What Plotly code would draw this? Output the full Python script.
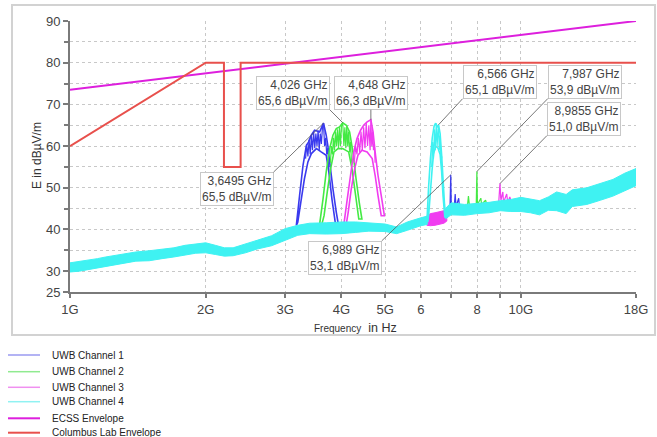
import math
import plotly.graph_objects as go

# ---------------- data (GHz, dBuV/m) ----------------
# noise floor band (all four channels overlaid), lower / upper edge
band_freq_a = [1.00, 1.05, 1.10, 1.15, 1.20, 1.30, 1.40, 1.50, 1.60, 1.70, 1.80, 1.90, 2.00,
               2.10, 2.20, 2.30, 2.45, 2.60, 2.80, 3.00, 3.20, 3.40, 3.70, 4.00, 4.30, 4.60,
               5.00, 5.30, 5.60, 6.00, 6.20]
band_lo_a = [29.8, 30.0, 30.3, 30.8, 31.0, 31.8, 32.4, 32.5, 33.0, 33.4, 33.8, 34.3, 34.4,
             34.0, 33.6, 33.7, 34.4, 35.3, 36.1, 37.3, 38.6, 39.0, 38.9, 39.0, 39.3, 39.6,
             39.5, 39.0, 39.8, 40.9, 41.2]
band_hi_a = [32.0, 32.3, 32.6, 33.0, 33.4, 34.0, 34.6, 34.9, 35.3, 35.6, 36.2, 36.6, 36.8,
             36.2, 35.6, 35.6, 36.6, 37.4, 38.5, 40.2, 41.0, 41.5, 41.6, 41.8, 41.8, 41.6,
             41.3, 40.6, 41.8, 42.8, 43.2]
band_freq_b = [6.80, 7.00, 7.50, 8.00, 8.50, 9.00, 9.50, 10.0, 10.5, 11.0, 11.5, 12.0, 12.6,
               13.0, 14.0, 15.0, 16.0, 17.0, 18.0]
band_lo_b = [42.5, 43.5, 43.4, 43.8, 44.0, 44.5, 44.3, 44.3, 44.0, 43.5, 44.6, 44.5, 43.8,
             45.5, 46.0, 47.0, 48.0, 49.3, 50.5]
band_hi_b = [45.0, 46.4, 46.0, 46.2, 46.5, 46.9, 47.2, 47.7, 47.2, 46.9, 47.8, 49.0, 48.4,
             49.5, 50.0, 51.0, 52.0, 53.5, 54.6]

# channel bumps: outer outline (left to right) and inner outline (right to left)
ch1_outer_f = [3.176, 3.23, 3.287, 3.344, 3.383, 3.428, 3.487, 3.578, 3.6495, 3.70, 3.73,
               3.766, 3.83, 3.896, 3.93]
ch1_outer_v = [40.9, 48.2, 55.4, 60.2, 61.0, 62.6, 63.8, 63.4, 65.5, 62.6, 60.2,
               56.2, 49.7, 44.1, 41.7]
ch1_inner_f = [3.88, 3.81, 3.75, 3.70, 3.606, 3.52, 3.43, 3.37, 3.31, 3.25, 3.20]
ch1_inner_v = [41.3, 47.3, 53.8, 57.8, 58.6, 59.4, 58.2, 56.2, 52.1, 46.5, 41.7]
ch1_top_f = [3.33, 3.35, 3.37, 3.39, 3.41, 3.43, 3.45, 3.47, 3.49, 3.51, 3.53, 3.55, 3.57,
             3.59, 3.61, 3.63, 3.6495, 3.67, 3.69, 3.71, 3.73, 3.75]
ch1_top_v = [57.0, 60.5, 57.5, 61.5, 58.0, 62.5, 59.0, 63.5, 59.5, 63.0, 60.0, 63.8, 59.0,
             63.0, 60.5, 64.5, 65.5, 60.0, 62.0, 58.0, 59.5, 55.0]

ch2_outer_f = [3.578, 3.64, 3.70, 3.766, 3.83, 3.896, 3.96, 4.026, 4.10, 4.17, 4.24, 4.31,
               4.38, 4.44]
ch2_outer_v = [41.3, 47.3, 53.8, 59.4, 62.6, 64.2, 64.6, 65.6, 65.0, 63.4, 58.6, 52.1,
               46.5, 42.5]
ch2_inner_f = [4.37, 4.30, 4.22, 4.15, 4.026, 3.93, 3.85, 3.785, 3.72, 3.66, 3.62]
ch2_inner_v = [42.5, 48.2, 54.6, 58.6, 59.4, 59.4, 58.6, 54.6, 49.0, 43.3, 41.3]
ch2_top_f = [3.78, 3.80, 3.82, 3.84, 3.86, 3.88, 3.90, 3.92, 3.94, 3.96, 3.98, 4.00, 4.026,
             4.05, 4.07, 4.09, 4.11, 4.13, 4.15, 4.17, 4.19, 4.21]
ch2_top_v = [56.0, 60.0, 58.0, 62.0, 59.0, 63.5, 60.0, 64.0, 59.5, 64.5, 60.0, 64.8, 65.6,
             60.0, 64.5, 59.5, 65.0, 60.0, 63.5, 58.5, 61.0, 56.0]

ch3_outer_f = [4.05, 4.12, 4.19, 4.26, 4.33, 4.41, 4.48, 4.56, 4.648, 4.70, 4.75, 4.82,
               4.90, 4.98]
ch3_outer_v = [41.3, 47.3, 53.0, 58.6, 61.8, 63.8, 65.0, 65.8, 66.3, 63.4, 58.6, 53.0,
               48.2, 43.3]
ch3_inner_f = [4.90, 4.82, 4.75, 4.68, 4.56, 4.44, 4.35, 4.28, 4.205, 4.14, 4.10]
ch3_inner_v = [43.3, 48.2, 53.0, 57.0, 58.6, 59.0, 57.8, 54.6, 49.7, 44.1, 41.3]
ch3_top_f = [4.27, 4.30, 4.33, 4.36, 4.39, 4.42, 4.45, 4.48, 4.51, 4.54, 4.57, 4.60, 4.63,
             4.648, 4.67, 4.69, 4.71, 4.73, 4.75]
ch3_top_v = [56.0, 60.0, 58.0, 62.0, 58.5, 63.5, 59.0, 64.5, 59.5, 65.5, 60.0, 65.0, 59.0,
             66.3, 60.0, 63.5, 59.0, 60.5, 56.0]

ch4_outer_f = [6.19, 6.24, 6.30, 6.36, 6.42, 6.47, 6.52, 6.566, 6.62, 6.67, 6.72, 6.77, 6.82]
ch4_outer_v = [42.1, 50.0, 57.0, 62.0, 64.8, 65.5, 64.5, 65.1, 63.0, 58.0, 52.0, 46.0, 43.0]
ch4_inner_f = [6.78, 6.72, 6.67, 6.62, 6.55, 6.47, 6.40, 6.35, 6.30, 6.25, 6.22]
ch4_inner_v = [43.0, 48.0, 54.0, 58.0, 59.5, 60.0, 58.0, 54.0, 49.0, 44.0, 42.0]
ch4_top_f = [6.34, 6.37, 6.40, 6.43, 6.46, 6.49, 6.52, 6.55, 6.566, 6.59, 6.62, 6.65, 6.68]
ch4_top_v = [55.0, 61.0, 57.0, 64.0, 59.0, 65.5, 60.0, 64.0, 65.1, 59.0, 62.5, 56.0, 57.5]

# channel 3 floor visible under channel 4's bump
ch3_patch_f = [6.18, 6.30, 6.45, 6.60, 6.75, 6.85]
ch3_patch_lo = [41.0, 40.9, 41.0, 41.2, 41.5, 42.0]
ch3_patch_hi = [43.2, 43.8, 44.0, 44.2, 44.5, 45.0]

# narrow spurs above the floor
ch1_spur_f = [6.90, 6.96, 6.989, 7.01, 7.12, 7.15, 7.18, 7.28, 7.31, 7.40]
ch1_spur_v = [44.0, 44.5, 53.1, 45.0, 46.0, 48.5, 45.5, 47.5, 45.0, 45.0]
ch2_spur_f = [7.50, 7.60, 7.65, 7.70, 7.96, 7.987, 8.01, 8.15, 8.18, 8.35, 8.40, 8.50]
ch2_spur_v = [45.0, 45.0, 48.0, 45.0, 45.5, 53.9, 46.0, 47.5, 46.0, 47.0, 46.0, 45.5]
ch3_spur_f = [8.80, 8.93, 8.9855, 9.03, 9.12, 9.15, 9.30, 9.35, 9.45, 9.55]
ch3_spur_v = [45.5, 46.5, 51.0, 47.0, 49.0, 46.5, 48.5, 46.5, 47.8, 46.0]

ecss_freq = [1.0, 18.0]
ecss_val = [73.5, 90.0]

columbus_freq = [1.0, 2.0, 2.195, 2.195, 2.39, 2.39, 18.0]
columbus_val = [60.0, 80.0, 80.0, 55.0, 55.0, 80.0, 80.0]

# marker annotations: freq, level, label, tail offset (px), anchors
marks = [
    (3.6495, 65.5, "3,6495 GHz<br>65,5 dBµV/m", -50, 49, "right", "top"),
    (4.026, 65.6, "4,026 GHz<br>65,6 dBµV/m", -13, -13, "right", "bottom"),
    (4.648, 66.3, "4,648 GHz<br>66,3 dBµV/m", 0, -10, "center", "bottom"),
    (6.566, 65.1, "6,566 GHz<br>65,1 dBµV/m", 24, -26, "left", "bottom"),
    (7.987, 53.9, "7,987 GHz<br>53,9 dBµV/m", 71, -73, "left", "bottom"),
    (8.9855, 51.0, "8,9855 GHz<br>51,0 dBµV/m", 47, -48, "left", "bottom"),
    (6.989, 53.1, "6,989 GHz<br>53,1 dBµV/m", -69, 66, "right", "top"),
]

x_tickvals = [1, 2, 3, 4, 5, 6, 7, 8, 9, 10, 18]
x_ticktext = ["1G", "2G", "3G", "4G", "5G", "6", "", "8", "", "10G", "18G"]
y_tickvals = [25, 30, 40, 50, 60, 70, 80, 90]
y_minor = [35, 45, 55, 65, 75, 85]

legend_names = ["UWB Channel 1", "UWB Channel 2", "UWB Channel 3", "UWB Channel 4",
                "ECSS Envelope", "Columbus Lab Envelope"]
legend_colors = ["#9a9af0", "#90ea90", "#f090f0", "#90f2f2", "#dd1fdd", "#e8504c"]
legend_widths = [1.5, 1.5, 1.5, 1.5, 2, 2]

C_BLUE = "#3a3aee"
C_GREEN = "#44ea44"
C_MAG = "#f03cf0"
C_CYAN = "#3ff2f2"
C_ECSS = "#dd1fdd"
C_COL = "#e8504c"

W, H = 657, 437
ML, MR, MT, MB = 70, 21, 21, 145
PW, PH = W - ML - MR, H - MT - MB


def paper_x(px):
    return (px - ML) / PW


def paper_y(py):
    return (H - MB - py) / PH


fig = go.Figure()


def add_fill(xs, ys, color):
    fig.add_trace(go.Scatter(x=xs, y=ys, mode="lines", fill="toself", fillcolor=color,
                             line=dict(color=color, width=1), showlegend=False, hoverinfo="skip"))


def add_line(xs, ys, color, width=1.2):
    fig.add_trace(go.Scatter(x=xs, y=ys, mode="lines", line=dict(color=color, width=width,
                                                                 simplify=False),
                             showlegend=False, hoverinfo="skip"))


def add_bump(of, ov, inf, inv, tf, tv, color):
    add_line(of + inf + of[:1], ov + inv + ov[:1], color, 1.6)
    add_line(tf, tv, color, 1.2)


# spurs (drawn first; the floor band covers their feet)
add_line(ch1_spur_f, ch1_spur_v, C_BLUE)
add_line(ch2_spur_f, ch2_spur_v, C_GREEN)
add_line(ch3_spur_f, ch3_spur_v, C_MAG)

# channel bumps
add_bump(ch1_outer_f, ch1_outer_v, ch1_inner_f, ch1_inner_v, ch1_top_f, ch1_top_v, C_BLUE)
add_bump(ch2_outer_f, ch2_outer_v, ch2_inner_f, ch2_inner_v, ch2_top_f, ch2_top_v, C_GREEN)
add_bump(ch3_outer_f, ch3_outer_v, ch3_inner_f, ch3_inner_v, ch3_top_f, ch3_top_v, C_MAG)
add_fill(ch3_patch_f + ch3_patch_f[::-1], ch3_patch_hi + ch3_patch_lo[::-1], C_MAG)

# floor band (two pieces, gap where channel 4's bump is)
fa = band_freq_a + band_freq_a[::-1]
va = band_hi_a + band_lo_a[::-1]
fb = band_freq_b + band_freq_b[::-1]
vb = band_hi_b + band_lo_b[::-1]
add_fill(fa + [None] + fb, va + [None] + vb, C_CYAN)
add_bump(ch4_outer_f, ch4_outer_v, ch4_inner_f, ch4_inner_v, ch4_top_f, ch4_top_v, C_CYAN)

# envelopes
fig.add_trace(go.Scatter(x=ecss_freq, y=ecss_val, mode="lines", line=dict(color=C_ECSS, width=2),
                         name="ECSS Envelope", showlegend=False, hoverinfo="skip"))
fig.add_trace(go.Scatter(x=columbus_freq, y=columbus_val, mode="lines", line=dict(color=C_COL, width=2),
                         name="Columbus Lab Envelope", showlegend=False, hoverinfo="skip"))

for f, v, txt, dx, dy, xa, ya in marks:
    fig.add_annotation(x=math.log10(f), y=v, xref="x", yref="y", text=txt,
                       showarrow=True, arrowhead=0, arrowwidth=0.8, arrowcolor="#555555",
                       ax=dx, ay=dy, axref="pixel", ayref="pixel",
                       xanchor=xa, yanchor=ya, align="right",
                       bgcolor="white", bordercolor="#c8c8c8", borderwidth=1, borderpad=1,
                       font=dict(family="Arial, Liberation Sans", size=12, color="#444444"))

# axis titles
fig.add_annotation(x=paper_x(355), y=paper_y(328), xref="paper", yref="paper", showarrow=False,
                   text="<span style='font-size:10px'>Frequency</span>  in Hz",
                   font=dict(family="Arial, Liberation Sans", size=12.5, color="#333333"),
                   xanchor="center", yanchor="middle")
fig.add_annotation(x=paper_x(37), y=paper_y(156), xref="paper", yref="paper", showarrow=False,
                   text="E in dBµV/m", textangle=-90,
                   font=dict(family="Arial, Liberation Sans", size=12, color="#333333"),
                   xanchor="center", yanchor="middle")

# outer frame
fig.add_shape(type="rect", xref="paper", yref="paper",
              x0=paper_x(12), x1=paper_x(655), y0=paper_y(335), y1=paper_y(5),
              line=dict(color="#d2d2d2", width=2), fillcolor="rgba(0,0,0,0)", layer="below")

# hand-placed legend (below the frame)
legend_rows = [355, 371.7, 387.3, 401.7, 418.3, 432.7]
for name, col, w, ry in zip(legend_names, legend_colors, legend_widths, legend_rows):
    fig.add_shape(type="line", xref="paper", yref="paper",
                  x0=paper_x(8), x1=paper_x(40), y0=paper_y(ry), y1=paper_y(ry),
                  line=dict(color=col, width=w))
    fig.add_annotation(x=paper_x(50), y=paper_y(ry), xref="paper", yref="paper", showarrow=False,
                       text=name, xanchor="left", yanchor="middle",
                       font=dict(family="Arial, Liberation Sans", size=10, color="#222222"))

fig.update_layout(
    width=W, height=H, autosize=False,
    margin=dict(l=ML, r=MR, t=MT, b=MB, autoexpand=False),
    paper_bgcolor="white", plot_bgcolor="white",
    font=dict(family="Arial, Liberation Sans", color="#444444"),
    showlegend=False,
    xaxis=dict(type="log", range=[0, math.log10(18)], tickvals=x_tickvals, ticktext=x_ticktext,
               showgrid=True, gridcolor="#c8c8c8", griddash="dot", gridwidth=1,
               showline=True, linecolor="#7a7a7a", linewidth=2,
               ticks="outside", ticklen=4, tickcolor="#7a7a7a", tickwidth=1.5,
               tickfont=dict(size=13, color="#444444"), zeroline=False, automargin=False),
    yaxis=dict(range=[25, 90], tickvals=y_tickvals,
               showgrid=True, gridcolor="#c8c8c8", griddash="dot", gridwidth=1,
               showline=True, linecolor="#7a7a7a", linewidth=2,
               ticks="outside", ticklen=5, tickcolor="#7a7a7a", tickwidth=1.5,
               minor=dict(tickvals=y_minor, ticks="outside", ticklen=4, tickcolor="#7a7a7a",
                          showgrid=True, gridcolor="#c8c8c8", griddash="dot"),
               tickfont=dict(size=13, color="#444444"), zeroline=False, automargin=False),
)

fig.write_html("out.html", config={"displayModeBar": False},
               post_script="document.body.style.margin='0';document.body.style.overflow='hidden';")
